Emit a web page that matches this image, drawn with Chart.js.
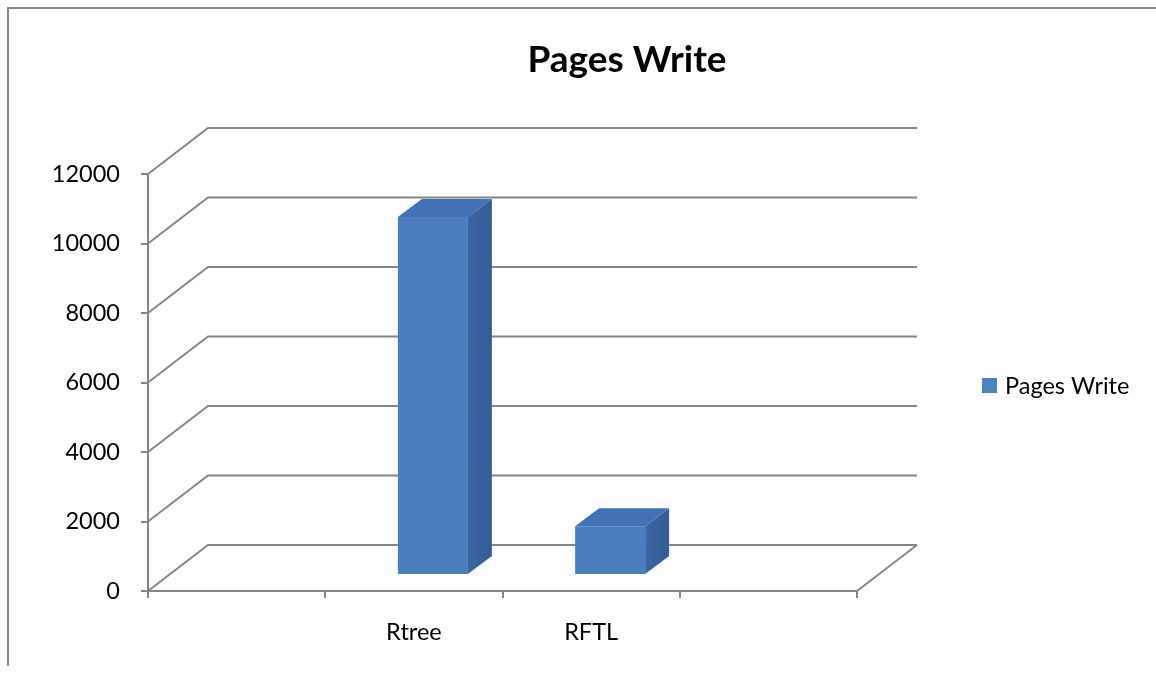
<!DOCTYPE html>
<html>
<head>
<meta charset="utf-8">
<title>Pages Write</title>
<script src="https://cdn.jsdelivr.net/npm/chart.js@4.4.1/dist/chart.umd.min.js"></script>
<style>
  html, body { margin: 0; padding: 0; background: #fff; }
  #wrap { width: 1156px; height: 675px; position: relative; }
</style>
</head>
<body>
<div id="wrap"><canvas id="pages-chart"></canvas></div>
<script>
// ===== DATA =====
const categories = ["", "Rtree", "RFTL", ""];
const pagesWrite = [null, 10300, 1400, null];
const yMax = 12000;
const yStep = 2000;

// ===== STYLE =====
const FONT = "Lato, 'Open Sans', sans-serif";
const FONT_SIZE = 23.5;
const GRID = "#868686";
const WALL_DEPTH = { dx: 60, dy: -46 };   // back wall offset from front plane
const BAR_FRONT = { dx: 19, dy: -16 };    // bar front face sits inside the floor
const BAR_DEPTH = { dx: 24, dy: -18 };    // bar thickness

// 3D walls, floor and frame behind the columns
const wallsPlugin = {
  id: "walls",
  beforeDatasetsDraw(chart) {
    const { ctx, chartArea: a, scales } = chart;
    const y = scales.y;
    ctx.save();
    ctx.strokeStyle = GRID;
    ctx.lineWidth = 2;

    // outer frame (top and left edges)
    ctx.beginPath();
    ctx.moveTo(8, 666);
    ctx.lineTo(8, 8);
    ctx.lineTo(1156, 8);
    ctx.stroke();

    // left wall diagonals + back wall gridlines
    for (let v = 0; v <= yMax; v += yStep) {
      const py = y.getPixelForValue(v);
      ctx.beginPath();
      ctx.moveTo(a.left, py);
      ctx.lineTo(a.left + WALL_DEPTH.dx, py + WALL_DEPTH.dy);
      ctx.lineTo(a.right + WALL_DEPTH.dx, py + WALL_DEPTH.dy);
      ctx.stroke();
    }
    // right floor edge
    const p0 = y.getPixelForValue(0);
    ctx.beginPath();
    ctx.moveTo(a.right, p0);
    ctx.lineTo(a.right + WALL_DEPTH.dx, p0 + WALL_DEPTH.dy);
    ctx.stroke();

    // shift the front faces into the floor
    ctx.translate(BAR_FRONT.dx, BAR_FRONT.dy);
  },
  afterDatasetsDraw(chart) {
    const { ctx } = chart;
    ctx.restore();
    ctx.save();
    const meta = chart.getDatasetMeta(0);
    meta.data.forEach((bar, i) => {
      if (pagesWrite[i] == null) return;
      const p = bar.getProps(["x", "y", "base", "width"], true);
      const l = p.x - p.width / 2 + BAR_FRONT.dx;
      const r = p.x + p.width / 2 + BAR_FRONT.dx;
      const t = p.y + BAR_FRONT.dy;
      const b = p.base + BAR_FRONT.dy;
      const { dx, dy } = BAR_DEPTH;

      // top face
      ctx.fillStyle = "#4272b3";
      ctx.beginPath();
      ctx.moveTo(l, t);
      ctx.lineTo(l + dx, t + dy);
      ctx.lineTo(r + dx, t + dy);
      ctx.lineTo(r, t);
      ctx.closePath();
      ctx.fill();

      // side face
      const side = ctx.createLinearGradient(r, 0, r + dx, 0);
      side.addColorStop(0, "#3b66a3");
      side.addColorStop(1, "#345c95");
      ctx.fillStyle = side;
      ctx.beginPath();
      ctx.moveTo(r, t);
      ctx.lineTo(r + dx, t + dy);
      ctx.lineTo(r + dx, b + dy);
      ctx.lineTo(r, b);
      ctx.closePath();
      ctx.fill();
    });

    // legend
    ctx.fillStyle = "#4f81bd";
    ctx.fillRect(982, 378, 15, 15);
    ctx.fillStyle = "#000";
    ctx.font = FONT_SIZE + "px " + FONT;
    ctx.textBaseline = "middle";
    ctx.textAlign = "left";
    ctx.fillText(chart.data.datasets[0].label, 1005, 386);

    // title
    ctx.font = "bold 37px " + FONT;
    ctx.textAlign = "center";
    ctx.fillText("Pages Write", 627, 60);
    ctx.restore();
  }
};

function frontGradient(context) {
  const { chart } = context;
  const bar = context.element;
  if (!bar || !Number.isFinite(bar.x) || !Number.isFinite(bar.width)) return "#4a7ebf";
  const w = bar.width;
  const g = chart.ctx.createLinearGradient(bar.x - w / 2, 0, bar.x + w / 2, 0);
  g.addColorStop(0, "#5087c8");
  g.addColorStop(0.15, "#4c80c2");
  g.addColorStop(1, "#4676b8");
  return g;
}

new Chart(document.getElementById("pages-chart"), {
  type: "bar",
  data: {
    labels: categories,
    datasets: [
      {
        label: "Pages Write",
        data: pagesWrite,
        backgroundColor: frontGradient,
        borderWidth: 0,
        barPercentage: 0.395,
        categoryPercentage: 1,
      },
    ],
  },
  options: {
    responsive: true,
    maintainAspectRatio: false,
    animation: false,
    layout: { padding: { top: 174, right: 299, left: 0, bottom: 0 } },
    plugins: {
      legend: { display: false },
      title: { display: false },
      tooltip: { enabled: false },
    },
    scales: {
      x: {
        afterFit: (s) => { s.height = 84; },
        grid: {
          offset: true,
          drawOnChartArea: false,
          color: GRID,
          lineWidth: 2,
          tickLength: 7,
        },
        border: { color: GRID, width: 2 },
        ticks: {
          color: "#000",
          font: { family: FONT, size: FONT_SIZE },
          padding: 20,
          maxRotation: 0,
        },
      },
      y: {
        min: 0,
        max: yMax,
        afterFit: (s) => { s.width = 148; },
        grid: {
          drawOnChartArea: false,
          color: GRID,
          lineWidth: 2,
          tickLength: 7,
        },
        border: { color: GRID, width: 2 },
        ticks: {
          stepSize: yStep,
          color: "#000",
          font: { family: FONT, size: FONT_SIZE },
          padding: 21,
          callback: (v) => String(v),
        },
      },
    },
  },
  plugins: [wallsPlugin],
});
</script>
</body>
</html>
